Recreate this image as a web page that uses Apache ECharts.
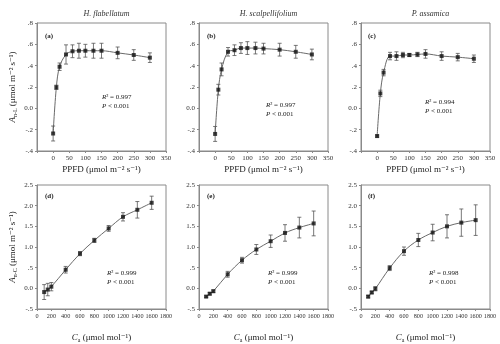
<!DOCTYPE html>
<html><head><meta charset="utf-8">
<script src="https://cdn.jsdelivr.net/npm/echarts@6/dist/echarts.min.js"></script>
<style>html,body{margin:0;padding:0;background:#fff}#c{width:500px;height:344px}</style>
</head><body><div id="c"></div>
<script>
// ---- data ----
const ppfd = [0, 10, 20, 40, 60, 80, 100, 125, 150, 200, 250, 300];
const aL_flab = [-0.236, 0.197, 0.39, 0.505, 0.535, 0.54, 0.54, 0.54, 0.54, 0.52, 0.50, 0.475];
const eL_flab = [0.07, 0.02, 0.035, 0.09, 0.06, 0.07, 0.06, 0.07, 0.07, 0.055, 0.05, 0.045];
const aL_scal = [-0.24, 0.175, 0.365, 0.53, 0.545, 0.565, 0.565, 0.565, 0.56, 0.55, 0.53, 0.505];
const eL_scal = [0.07, 0.05, 0.06, 0.04, 0.05, 0.05, 0.06, 0.055, 0.05, 0.06, 0.06, 0.05];
const aL_assa = [-0.26, 0.14, 0.335, 0.49, 0.49, 0.50, 0.50, 0.505, 0.51, 0.49, 0.48, 0.465];
const eL_assa = [0.01, 0.03, 0.03, 0.035, 0.04, 0.025, 0.015, 0.02, 0.04, 0.04, 0.035, 0.035];

const ca = [100, 150, 200, 400, 600, 800, 1000, 1200, 1400, 1600];
const aC_flab = [-0.09, -0.03, 0.04, 0.45, 0.84, 1.16, 1.45, 1.73, 1.9, 2.07];
const eC_flab = [0.18, 0.15, 0.1, 0.08, 0.05, 0.05, 0.07, 0.1, 0.2, 0.16];
const aC_scal = [-0.2, -0.13, -0.07, 0.34, 0.68, 0.94, 1.14, 1.34, 1.47, 1.57];
const eC_scal = [0.02, 0.03, 0.03, 0.07, 0.07, 0.12, 0.15, 0.2, 0.25, 0.3];
const aC_assa = [-0.2, -0.1, -0.01, 0.49, 0.9, 1.17, 1.35, 1.5, 1.59, 1.65];
const eC_assa = [0.03, 0.03, 0.05, 0.06, 0.1, 0.16, 0.2, 0.28, 0.33, 0.37];

const species = ['H. flabellatum', 'H. scalpellifolium', 'P. assamica'];
const panelTags = ['(a)', '(b)', '(c)', '(d)', '(e)', '(f)'];
const r2Text = ['0.997', '0.997', '0.994', '0.999', '0.999', '0.998'];
const pText = '0.001';
const ppfdTicks = {min: -50, max: 350, interval: 50};
const caTicks = {min: 0, max: 1800, interval: 200};
const lightTicks = {min: -0.4, max: 0.8, interval: 0.2};
const co2Ticks = {min: -0.5, max: 2.5, interval: 0.5};

// ---- layout ----
const lefts = [37, 199, 361];
const W = 129;
const tops = [23, 185];
const H = 128;
const serif = '"Liberation Serif", "DejaVu Serif", serif';

const panels = [
  {x: ppfd, y: aL_flab, e: eL_flab}, {x: ppfd, y: aL_scal, e: eL_scal}, {x: ppfd, y: aL_assa, e: eL_assa},
  {x: ca, y: aC_flab, e: eC_flab}, {x: ca, y: aC_scal, e: eC_scal}, {x: ca, y: aC_assa, e: eC_assa}
];

function fmtY(v) {
  if (Math.abs(v) < 1e-9) return '0.0';
  return v.toFixed(1).replace(/^(-?)0\./, '$1.');
}

const grid = [], xAxis = [], yAxis = [], series = [], titles = [], graphic = [];
const labelStyle = {fontFamily: serif, fontSize: 7, color: '#333', margin: 4};
const nameRich = {
  t: {fontFamily: serif, fontSize: 9, color: '#222'},
  i: {fontFamily: serif, fontSize: 9, fontStyle: 'italic', color: '#222'},
  sub: {fontFamily: serif, fontSize: 6, color: '#222', padding: [5, 0, 0, 0]}
};

for (let i = 0; i < 6; i++) {
  const row = Math.floor(i / 3), col = i % 3;
  grid.push({left: lefts[col], top: tops[row], width: W, height: H, show: true,
    borderColor: '#8a8a8a', borderWidth: 1, backgroundColor: 'transparent'});
  const xt = row === 0 ? ppfdTicks : caTicks;
  const yt = row === 0 ? lightTicks : co2Ticks;
  xAxis.push({type: 'value', gridIndex: i, min: xt.min, max: xt.max, interval: xt.interval,
    splitLine: {show: false},
    axisLine: {show: true, onZero: false, lineStyle: {color: '#8a8a8a'}},
    axisTick: {show: true, length: 2, lineStyle: {color: '#8a8a8a'}},
    axisLabel: Object.assign({}, labelStyle, {fontSize: row === 0 ? 7 : 6.2,
      formatter: v => (v < 0 ? '' : String(v)), showMinLabel: true, showMaxLabel: true, hideOverlap: false}),
    name: row === 0 ? '{t|PPFD (μmol m⁻² s⁻¹)}' : '{i|C}{sub|a}{t| (μmol mol⁻¹)}',
    nameLocation: 'middle', nameGap: row === 0 ? 14 : 23,
    nameTextStyle: {rich: nameRich}
  });
  yAxis.push({type: 'value', gridIndex: i, min: yt.min, max: yt.max, interval: yt.interval,
    splitLine: {show: false},
    axisLine: {show: true, onZero: false, lineStyle: {color: '#8a8a8a'}},
    axisTick: {show: true, length: 2, lineStyle: {color: '#8a8a8a'}},
    axisLabel: Object.assign({}, labelStyle, {formatter: fmtY, showMinLabel: true, showMaxLabel: true}),
    name: col === 0 ? (row === 0 ? '{i|A}{sub|n-L}{t| (μmol m⁻² s⁻¹)}' : '{i|A}{sub|n-C}{t| (μmol m⁻² s⁻¹)}') : '',
    nameLocation: 'middle', nameGap: 19, nameRotate: 90,
    nameTextStyle: {rich: nameRich}
  });
  const p = panels[i];
  const pts = p.x.map((x, k) => [x, p.y[k]]);
  const errs = p.x.map((x, k) => [x, p.y[k], p.e[k]]);
  series.push({type: 'line', xAxisIndex: i, yAxisIndex: i, data: pts, smooth: 0.35, showSymbol: false,
    lineStyle: {color: '#6a6a6a', width: 1}, silent: true, z: 2});
  series.push({type: 'custom', xAxisIndex: i, yAxisIndex: i, data: errs, z: 3, silent: true,
    renderItem: function (params, api) {
      const x = api.value(0), y = api.value(1), e = api.value(2);
      const hi = api.coord([x, y + e]), lo = api.coord([x, y - e]);
      const cw = 2;
      const st = {stroke: '#555', lineWidth: 0.8, fill: null};
      return {type: 'group', children: [
        {type: 'line', shape: {x1: hi[0], y1: hi[1], x2: lo[0], y2: lo[1]}, style: st},
        {type: 'line', shape: {x1: hi[0] - cw, y1: hi[1], x2: hi[0] + cw, y2: hi[1]}, style: st},
        {type: 'line', shape: {x1: lo[0] - cw, y1: lo[1], x2: lo[0] + cw, y2: lo[1]}, style: st}
      ]};
    }});
  series.push({type: 'scatter', xAxisIndex: i, yAxisIndex: i, data: pts, symbol: 'rect', symbolSize: 4,
    itemStyle: {color: '#111'}, z: 4, silent: true});
}

for (let c = 0; c < 3; c++) {
  titles.push({text: species[c], left: lefts[c] + W / 2, top: 5, textAlign: 'center',
    textStyle: {fontFamily: serif, fontSize: 8, fontStyle: 'italic', fontWeight: 'normal', color: '#333'}});
}

const tagPos = [[45, 38], [207, 38], [368, 38], [45, 198], [207, 198], [368, 198]];
const r2Pos = [[102, 99], [266, 107], [425, 104], [107, 275], [268, 275], [429, 275]];
for (let i = 0; i < 6; i++) {
  graphic.push({type: 'text', left: tagPos[i][0], top: tagPos[i][1] - 5,
    style: {text: panelTags[i], font: 'bold 7px ' + serif, fill: '#222'}});
  graphic.push({type: 'text', left: r2Pos[i][0], top: r2Pos[i][1] - 5,
    style: {text: '{i|R}{t|² = ' + r2Text[i] + '}\n{i|P}{t| < ' + pText + '}',
      rich: {i: {fontFamily: serif, fontStyle: 'italic', fontSize: 7, fill: '#222', lineHeight: 9},
             t: {fontFamily: serif, fontSize: 7, fill: '#222', lineHeight: 9}}}});
}

const chart = echarts.init(document.getElementById('c'), null, {renderer: 'canvas'});
chart.setOption({backgroundColor: '#fff', animation: false, title: titles, grid, xAxis, yAxis, series, graphic});
</script></body></html>
